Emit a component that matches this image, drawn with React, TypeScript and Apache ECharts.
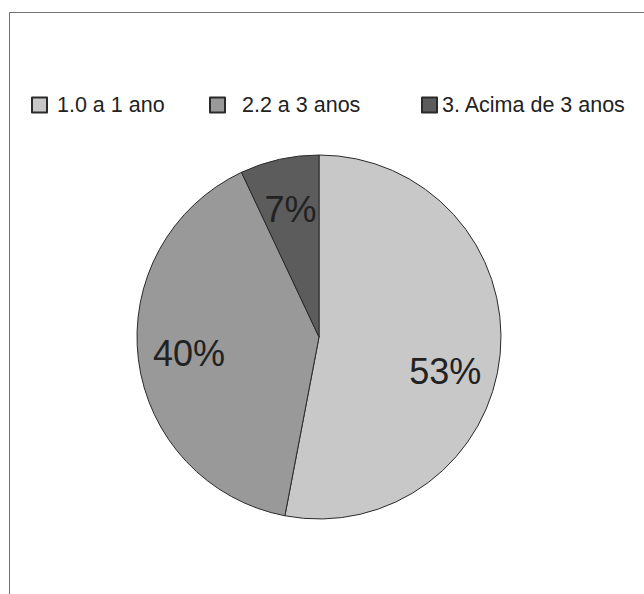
import React, { useEffect, useRef } from "react";
import * as echarts from "echarts";

// Tempo de serviço — distribuição por faixa
const categories = ["1.0 a 1 ano", "2.2 a 3 anos", "3. Acima de 3 anos"];
const values = [53, 40, 7];
const sliceColors = ["#c8c8c8", "#999999", "#5c5c5c"];

const W = 644;
const H = 594;
const CX = 319;
const CY = 337;
const RADIUS = 182;
const LABEL_DIST = 131;
// extra clockwise turn (degrees) applied to each slice label
const LABEL_TURN = [10, 0, 0];

// legend entry placement: icon left edge and icon-to-text spacing
const legendLefts = [31, 209, 421];
const legendTextPad = [5, 12, 0];

const FONT = "Liberation Sans, Arial, sans-serif";

export default function App() {
  const ref = useRef<HTMLDivElement>(null);

  useEffect(() => {
    if (!ref.current) return;
    const chart = echarts.init(ref.current, null, { renderer: "svg" });

    const legends = categories.map((name, i) => ({
      show: true,
      data: [name],
      left: legendLefts[i],
      top: 94,
      padding: 0,
      itemWidth: 15,
      itemHeight: 15,
      itemGap: 0,
      icon: "rect",
      selectedMode: false,
      textStyle: {
        fontFamily: FONT,
        fontSize: 21.5,
        color: "#222",
        padding: [0, 0, 0, legendTextPad[i]],
      },
    }));

    chart.setOption({
      animation: false,
      backgroundColor: "#ffffff",
      graphic: [
        {
          type: "rect",
          shape: { x: 9.5, y: 12.5, width: 900, height: 900 },
          style: { fill: "none", stroke: "#707070", lineWidth: 1 },
          silent: true,
        },
      ],
      legend: legends,
      series: [
        {
          type: "pie",
          center: [CX, CY],
          radius: [0, RADIUS],
          startAngle: 90,
          clockwise: true,
          avoidLabelOverlap: false,
          itemStyle: { borderColor: "#2a2a2a", borderWidth: 1 },
          emphasis: { disabled: true },
          label: {
            show: true,
            position: "inside",
            formatter: "{c}%",
            fontFamily: FONT,
            fontSize: 36,
            color: "#222",
          },
          labelLine: { show: false },
          labelLayout: (p: any) => {
            const r = p.labelRect;
            const lx = r.x + r.width / 2;
            const ly = r.y + r.height / 2;
            const turn = ((LABEL_TURN[p.dataIndex] || 0) * Math.PI) / 180;
            const a = Math.atan2(ly - CY, lx - CX) + turn;
            return {
              x: CX + Math.cos(a) * LABEL_DIST,
              y: CY + Math.sin(a) * LABEL_DIST,
              align: "center",
              verticalAlign: "middle",
            };
          },
          data: categories.map((name, i) => ({
            name,
            value: values[i],
            itemStyle: { color: sliceColors[i] },
          })),
        },
      ],
    });

    return () => chart.dispose();
  }, []);

  return (
    <div
      ref={ref}
      style={{ position: "absolute", left: 0, top: 0, width: W, height: H }}
    />
  );
}
